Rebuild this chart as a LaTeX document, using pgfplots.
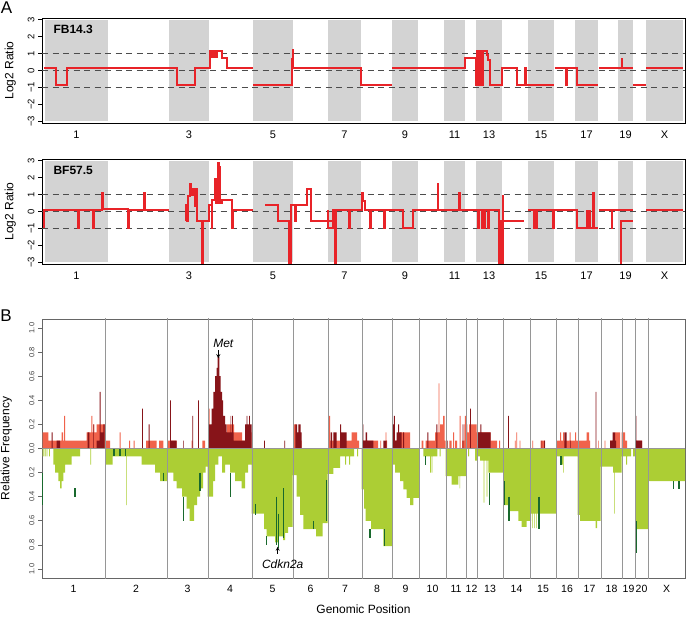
\documentclass[border=0pt]{standalone}
\usepackage{fontspec}
\setmainfont{Liberation Sans}
\usepackage{pgfplots}
\pgfplotsset{compat=1.18}

\definecolor{band}{RGB}{211,211,211}
\definecolor{segred}{RGB}{232,35,40}
\definecolor{gainlt}{RGB}{240,98,75}
\definecolor{gaindk}{RGB}{135,20,25}
\definecolor{losslt}{RGB}{172,206,52}
\definecolor{lossdk}{RGB}{25,105,45}
\definecolor{sep}{RGB}{150,150,150}

% x axis is a running genome position (one unit per pixel column of the figure)
\pgfplotsset{
  every axis/.append style={
    /pgf/number format/assume math mode=true,
    scale only axis, xmin=0, xmax=643, clip=true,
    x tick style={draw=none},
    tick align=outside, major tick length=4pt,
    ytick pos=left, xtick pos=bottom,
  },
  logpanel/.style={
    width=643pt, height=105pt, ymin=-3.1, ymax=3.1,
    axis line style={black, line width=0.8pt},
    xtick={34.5,147,231,302.5,363,412.5,447,499,544.5,583.5,622.5},
    xticklabels={1,3,5,7,9,11,13,15,17,19,X},
    ytick={-3,-2,-1,0,1,2,3},
    yticklabels={−3,−2,−1,0,1,2,3},
    y tick style={black, line width=0.7pt},
    xticklabel style={font=\fontsize{11}{11}\selectfont},
    yticklabel style={font=\fontsize{9.5}{9.5}\selectfont, rotate=90, anchor=south},
    ylabel={Log2 Ratio},
    ylabel style={font=\fontsize{12}{12}\selectfont, at={(axis description cs:-0.0446,0.5)}, anchor=base},
  },
}

\newcommand{\bands}{%
  \addplot[fill=band,draw=none] coordinates {(3,-3)(66,-3)(66,3)(3,3)} --cycle;
  \addplot[fill=band,draw=none] coordinates {(127,-3)(167,-3)(167,3)(127,3)} --cycle;
  \addplot[fill=band,draw=none] coordinates {(211,-3)(251,-3)(251,3)(211,3)} --cycle;
  \addplot[fill=band,draw=none] coordinates {(286,-3)(319,-3)(319,3)(286,3)} --cycle;
  \addplot[fill=band,draw=none] coordinates {(350,-3)(376,-3)(376,3)(350,3)} --cycle;
  \addplot[fill=band,draw=none] coordinates {(402,-3)(423,-3)(423,3)(402,3)} --cycle;
  \addplot[fill=band,draw=none] coordinates {(434,-3)(460,-3)(460,3)(434,3)} --cycle;
  \addplot[fill=band,draw=none] coordinates {(486,-3)(512,-3)(512,3)(486,3)} --cycle;
  \addplot[fill=band,draw=none] coordinates {(533,-3)(556,-3)(556,3)(533,3)} --cycle;
  \addplot[fill=band,draw=none] coordinates {(576,-3)(591,-3)(591,3)(576,3)} --cycle;
  \addplot[fill=band,draw=none] coordinates {(604,-3)(641,-3)(641,3)(604,3)} --cycle;
  \addplot[black!70, line width=1.3pt, dash pattern=on 6pt off 4.5pt] coordinates {(0,1)(643,1)};
  \addplot[black!70, line width=1.3pt, dash pattern=on 6pt off 4.5pt] coordinates {(0,0)(643,0)};
  \addplot[black!70, line width=1.3pt, dash pattern=on 6pt off 4.5pt] coordinates {(0,-1)(643,-1)};
}

\begin{document}
\begin{tikzpicture}
\path[use as bounding box] (0pt,0pt) rectangle (687pt,618pt);

\node[font=\fontsize{17}{17}\selectfont] at (6.5pt,610pt) {A};
\node[font=\fontsize{17}{17}\selectfont] at (6pt,302pt) {B};

% ---- A: FB14.3
\begin{axis}[logpanel, at={(42pt,495pt)}, anchor=south west]
\bands
\addplot[segred, line width=2pt, unbounded coords=jump] coordinates {
(2.3,0.15)(14,0.15)(14,-0.85)(24.7,-0.85)(24.7,0.15)(134.7,0.15)(134.7,-0.85)(153,-0.85)(153,0.15)
(168,0.15)(168,1.15)(170,1.15)(170,0.8)(172,0.8)(172,1.15)(174,1.15)(174,0.8)(175,0.8)(175,1.15)
(180,1.15)(180,0.75)(184.7,0.75)(184.7,0.15)(211,0.15)(211,nan)
(211,-0.85)(249.5,-0.85)(249.5,0.7)(250.5,0.7)(250.5,1.2)(251.3,1.2)(251.3,0.15)(319,0.15)(319,-0.85)(349.7,-0.85)(349.7,nan)
(350,0.15)(423,0.15)(423,0.75)(433.7,0.75)(433.7,-0.85)(435,-0.85)(435,1.15)(437,1.15)(437,-0.85)
(438,-0.85)(438,1.15)(440,1.15)(440,-0.85)(441.3,-0.85)(441.3,1.15)(444.7,1.15)(444.7,0.9)(446,0.9)
(446,0.6)(448,0.6)(448,-0.85)(460.3,-0.85)(460.3,0.15)(474.7,0.15)(474.7,-0.85)(483,-0.85)(483,0.15)
(484,0.15)(484,-0.85)(512.3,-0.85)(512.3,nan)
(512.5,0.15)(523.5,0.15)(523.5,-0.85)(524.5,-0.85)(524.5,0.15)(534.7,0.15)(534.7,-0.85)(556.3,-0.85)(556.3,nan)
(556.5,0.15)(579.5,0.15)(579.5,0.7)(580.3,0.7)(580.3,0.15)(590.7,0.15)(590.7,nan)
(591,-0.85)(604,-0.85)(604,nan)
(604,0.15)(641.3,0.15)
};
\node[anchor=west, font=\bfseries\fontsize{12}{12}\selectfont] at (axis cs:8,2.45) {FB14.3};
\end{axis}

% ---- A: BF57.5
\begin{axis}[logpanel, at={(42pt,354pt)}, anchor=south west]
\bands
\addplot[segred, line width=2pt, unbounded coords=jump] coordinates {
(2.3,-1)(2.3,0.1)(36,0.1)(36,-1)(36.6,-1)(36.6,0.1)(51,0.1)(51,-1)(51.6,-1)(51.6,0.1)(60,0.1)(60,1.1)
(60.6,1.1)(60.6,0.15)(86,0.15)(86,-1)(86.6,-1)(86.6,0.1)(102,0.1)(102,1.1)(102.6,1.1)(102.6,0.1)(127,0.1)(127,nan)
(143.7,-0.55)(143.7,0.4)(145,0.4)(145,-0.55)(146.3,-0.55)(146.3,0.9)(148.3,0.9)(148.3,1.65)(149,1.65)
(149,1.0)(150.7,1.0)(150.7,1.35)(153,1.35)(153,0.3)(154,0.3)(154,1.35)(154.7,1.35)(154.7,-0.55)
(159.7,-0.55)(159.7,-3.2)(160.7,-3.2)(160.7,-0.55)(167.3,-0.55)(167.3,0.4)(169.7,0.4)(169.7,-1)
(170.3,-1)(170.3,0.7)(173,0.7)(173,1.9)(173.6,1.9)(173.6,0.5)(174.7,0.5)(174.7,1.8)(175.3,1.8)
(175.3,0.5)(176,0.5)(176,2.85)(176.7,2.85)(176.7,0.5)(177.7,0.5)(177.7,2.6)(178.3,2.6)(178.3,0.5)
(179.7,0.5)(179.7,0.7)(190.3,0.7)(190.3,-1)(190.8,-1)(190.8,0.1)(211.3,0.1)(211.3,nan)
(223,0.4)(235.7,0.4)(235.7,-0.55)(247.3,-0.55)(247.3,-3.2)(248.5,-3.2)(248.5,0.4)(253,0.4)(253,-0.55)
(253.6,-0.55)(253.6,0.4)(265.3,0.4)(265.3,1.35)(268.7,1.35)(268.7,-0.55)(291.3,-0.55)(291.3,nan)
(286,0.1)(286,-0.95)(291.3,-0.95)(291.3,0.1)(293,0.1)(293,-3.2)(293.7,-3.2)(293.7,0.1)(307.3,0.1)
(307.3,-1)(307.9,-1)(307.9,0.1)(319.7,0.1)(319.7,1.1)(320.5,1.1)(320.5,0.6)(323,0.6)(323,0.1)(328,0.1)
(328,-1)(328.6,-1)(328.6,0.1)(342.3,0.1)(342.3,-1)(342.9,-1)(342.9,0.1)(361.3,0.1)(361.3,-0.95)
(370.7,-0.95)(370.7,0.1)(395.7,0.1)(395.7,1.65)(396.3,1.65)(396.3,0.1)(417.3,0.1)(417.3,1.1)(417.9,1.1)
(417.9,0.1)(436.3,0.1)(436.3,-1)(436.9,-1)(436.9,0.1)(439.7,0.1)(439.7,-1)(440.3,-1)(440.3,0.1)
(442.3,0.1)(442.3,-1)(442.9,-1)(442.9,0.1)(446.3,0.1)(446.3,-1)(446.9,-1)(446.9,0.1)(457,0.1)
(457,-3.2)(458,-3.2)(458,-0.55)(459.5,-0.55)(459.5,-3.2)(460.5,-3.2)(460.5,0.9)(461.3,0.9)(461.3,-0.55)
(482,-0.55)(482,nan)
(486.3,0.1)(492.3,0.1)(492.3,-1)(493.5,-1)(493.5,0.1)(494.3,0.1)(494.3,-1)(494.9,-1)(494.9,0.1)
(511.3,0.1)(511.3,-1)(511.9,-1)(511.9,0.1)(534.7,0.1)(534.7,-0.95)(544.5,-0.95)(544.5,0)(545.1,0)
(545.1,-0.95)(547,-0.95)(547,0)(547.5,0)(547.5,-0.95)(551.3,-0.95)(551.3,1.1)(551.9,1.1)(551.9,-0.95)
(556.3,-0.95)(556.3,nan)
(556.5,0.1)(569.7,0.1)(569.7,-1)(570.3,-1)(570.3,0.1)(590.7,0.1)(590.7,nan)
(579,-3.2)(579,-0.55)(591.3,-0.55)(591.3,nan)
(604,0.1)(641.3,0.1)
};
\node[anchor=west, font=\bfseries\fontsize{12}{12}\selectfont] at (axis cs:8,2.45) {BF57.5};
\end{axis}

% ---- B: relative frequency of gains (up) and losses (down)
\begin{axis}[at={(42pt,40pt)}, anchor=south west, width=643pt, height=259pt,
  ymin=-1.075, ymax=1.075,
  axis line style={black!60, line width=0.8pt},
  xtick={31.5,94,145.5,188,230.5,268.5,303,335,363.5,390.5,414,429.5,448,474.5,501,525,547.5,569.5,586.5,599.5,624.5},
  xticklabels={1,2,3,4,5,6,7,8,9,10,11,12,13,14,15,16,17,18,19,20,X},
  ytick={-1,-0.8,-0.6,-0.4,-0.2,0,0.2,0.4,0.6,0.8,1},
  yticklabels={1.0,0.8,0.6,0.4,0.2,0.0,0.2,0.4,0.6,0.8,1.0},
  y tick style={black!60, line width=0.6pt},
  xticklabel style={font=\fontsize{10.5}{10.5}\selectfont},
  yticklabel style={font=\fontsize{7.5}{7.5}\selectfont, rotate=90, anchor=south, text=black!75},
  ylabel={Relative Frequency},
  ylabel style={font=\fontsize{12}{12}\selectfont, at={(axis description cs:-0.0508,0.5)}, anchor=base},
  xlabel={Genomic Position},
  xlabel style={font=\fontsize{12}{12}\selectfont, at={(axis description cs:0.5,-0.1375)}, anchor=base},
]
% gains
\addplot[fill=gainlt, draw=none, const plot mark left] coordinates {
(0,0)(0.5,0.133)(6.3,0.066)(19.5,0.133)(21,0.066)(22,0.27)(23,0.066)(44.7,0.133)(49.3,0.27)(50.3,0.133)
(51.3,0.2)(52.3,0.133)(54.7,0.2)(63.5,0.066)(68,0)
(77.5,0.133)(78.5,0)(87,0.066)(88,0)(91.5,0.066)(92.5,0)(104,0.066)(114.7,0)(117,0.066)(121.3,0)
(125.7,0.066)(134.7,0)(149.5,0.066)(150.5,0)(160.3,0.066)(163,0)
(166,0.066)(166.5,0.33)(167.5,0.133)(185,0.2)(192,0.133)(200,0.066)(203,0.133)(209.5,0)
(251,0.2)(254,0.066)(259.5,0)
(286,0.066)(287,0.27)(288,0.066)(309.5,0.133)(315,0.066)(317,0)
(320,0.066)(336,0)(338.3,0.066)(339,0)(343.7,0.133)(344.3,0.066)(345,0)
(350.3,0.066)(358,0.133)(368,0)
(379.7,0.066)(381.3,0)(383.7,0.066)(393,0.133)(396.7,0.54)(397.4,0.133)(398,0.2)(401,0.27)(402.5,0.066)(403.5,0)
(407.3,0.066)(409.7,0)(411,0.133)(412,0)(413,0.066)(415,0)(417.7,0.27)(418.5,0)(420,0.066)(422.3,0.2)
(422.8,0.27)(423.8,0.2)(425.3,0.133)(427,0.2)(434.7,0.133)
(435,0.133)(448.7,0.066)(455,0)(457,0.066)(458,0)
(472.8,0.066)(473.5,0)(474.3,0.133)(475,0)(477.5,0.066)(478.3,0)
(490.3,0.066)(491,0)(498.7,0.066)(503,0)
(514.3,0.066)(518,0.133)(519,0.066)(521,0.133)(522,0.066)(527.7,0.133)(528.7,0.066)(533,0.133)(534,0.066)
(544.7,0.133)(547,0.066)(548,0)(556,0.066)(556.7,0)
(562.5,0.066)(563.3,0)(568,0.066)(573,0.133)(578,0)
(579.7,0.133)(583,0.066)(585,0)
(594.3,0.066)(600,0)(643,0)
} \closedcycle;
\addplot[fill=gaindk, draw=none, const plot mark left] coordinates {
(0,0)(9.7,0.133)(10.7,0)(14.7,0.066)(18,0)(45.7,0.133)(47.3,0)(51,0.2)(51.7,0)(54.7,0.066)(57.7,0.47)
(58.5,0.133)(61.3,0.2)(62.7,0)
(100,0.33)(100.8,0)(106.7,0.2)(107.5,0)
(128,0.4)(128.8,0.066)(134.7,0)(141,0.066)(141.7,0)(150.4,0.27)(151.2,0)(156,0.4)(156.8,0)
(167,0.2)(169.7,0.33)(171.3,0.47)(173,0.6)(174.7,0.67)(175.5,0.76)(177.3,0.6)(178.7,0.47)(180,0.4)
(181,0.27)(183,0.2)(184.7,0.133)(188.5,0.27)(189.2,0.133)(190,0.27)(190.8,0.133)(191.5,0.066)(203,0.2)
(204.5,0.27)(205.3,0.2)(207,0.27)(207.8,0.2)(209.5,0)
(222,0.066)(222.8,0)(242.3,0.066)(243,0)
(253.3,0.2)(255,0.133)(256.3,0.2)(258.5,0.133)(259.5,0)
(288.7,0.133)(290,0)(291.3,0.133)(294.7,0)(298,0.2)(299,0.133)(304.7,0)
(320,0.2)(321.3,0.066)(323.7,0.133)(325,0.066)(331.3,0)(341.3,0.066)(344.7,0)
(350.8,0.2)(351.8,0.27)(352.8,0.066)(354.7,0.133)(356,0.2)(357,0.133)(359.7,0)(361,0.133)(362,0)
(385.3,0.133)(386.3,0)(394.3,0.2)(395.3,0)
(404.5,0.066)(405.5,0)(420.5,0.2)(421.3,0)
(428,0.33)(428.8,0)
(435.3,0.133)(438.3,0.2)(439.3,0.133)(448.7,0)
(466,0.27)(466.8,0)
(499.5,0.066)(500.2,0)(502,0.066)(502.8,0)
(522.3,0.133)(524.7,0)(528,0.066)(528.7,0)
(553.7,0.47)(554.4,0)
(568,0.066)(570.7,0.133)(573,0.066)(574,0)
(593.5,0.27)(594.3,0.066)(600,0)(643,0)
} \closedcycle;
% losses
\addplot[fill=losslt, draw=none, const plot mark left] coordinates {
(0,0)(0.7,-0.066)(1.5,0)(2.7,-0.066)(3.5,0)(4.5,-0.066)(5.3,0)(7,-0.066)(7.8,0)(11.3,-0.133)(13,-0.2)
(16.3,-0.27)(18,-0.33)(19.7,-0.27)(21.3,-0.2)(23,-0.133)(29.7,-0.066)(38,0)(48.3,-0.133)(49,0)
(63.7,-0.133)(70.7,-0.066)(84,-0.47)(84.7,-0.066)(99.7,-0.133)(113,-0.2)(118,-0.27)
(125,-0.2)(131.3,-0.27)(134.7,-0.33)(140,-0.4)(144.7,-0.5)(147.5,-0.6)(152,-0.47)(155,-0.4)(158,-0.33)
(161,-0.2)(163.5,-0.15)
(165.7,-0.4)(171,-0.27)(173,-0.133)(176.3,-0.066)(180,-0.2)(183,-0.133)(188,-0.2)(193,-0.27)(199.7,-0.33)
(203,-0.2)(206,-0.133)
(209.7,-0.54)(222,-0.67)(224.5,-0.73)(233,-0.78)(236,-0.73)(241,-0.76)(243,-0.7)(246,-0.65)
(250.7,-0.22)(254.7,-0.4)(258,-0.55)(261.3,-0.67)(274,-0.73)(280.5,-0.62)
(285.7,-0.21)(291.3,-0.16)(298,-0.066)(303,-0.133)(304,-0.066)(307,-0.133)(308,-0.066)(312,0)(315,-0.066)(316,0)
(319.7,-0.34)(322,-0.5)(323.5,-0.6)(329,-0.67)(341.3,-0.81)
(350.3,-0.133)(353,-0.2)(358,-0.27)(361.3,-0.34)(364.7,-0.41)(368,-0.47)(371.3,-0.41)
(377.3,0)(381.3,-0.066)(388,-0.2)(388.8,-0.066)(389.5,-0.2)(390.3,-0.066)(395.3,0)(397.7,-0.066)(398.5,0)
(403.7,-0.23)(409.7,-0.3)(416.3,-0.23)(417.5,-0.33)(418.2,-0.23)
(424.3,0)(426,-0.066)(427,0)(433,-0.1)
(435,-0.066)(438,-0.1)(441.5,-0.45)(442.3,-0.1)(444.5,-0.4)(445.3,-0.1)(446.3,-0.2)
(461.3,-0.47)(466.3,-0.52)(476.3,-0.6)(479.7,-0.65)(484.7,-0.6)
(488,-0.6)(489,-0.54)(490,-0.66)(490.7,-0.54)(492,-0.66)(492.7,-0.54)(494,-0.66)(494.7,-0.54)
(514.3,-0.066)(518,-0.133)(521,-0.2)(521.7,-0.066)
(535.7,-0.55)(538,-0.6)(553.5,-0.66)(555,-0.6)
(558.7,-0.15)(571,-0.2)(572,-0.54)(572.7,-0.2)
(579.7,-0.066)(584,-0.133)(585,-0.066)(589,0)(591,-0.066)
(593.3,-0.67)
(606.3,-0.27)(643,0)
} \closedcycle;
\addplot[lossdk, line width=1.1pt, unbounded coords=jump] coordinates {
(0.4,-0.2)(0.4,-0.47)(0.4,nan)(33,-0.33)(33,-0.4)(33,nan)
(72,0)(72,-0.066)(72,nan)(78,0)(78,-0.066)(78,nan)(83.7,0)(83.7,-0.066)(83.7,nan)
(121.3,-0.2)(121.3,-0.27)(121.3,nan)(141.5,-0.4)(141.5,-0.6)(141.5,nan)(158,-0.2)(158,-0.35)(158,nan)
(188.7,-0.2)(188.7,-0.4)(188.7,nan)(213.7,-0.46)(213.7,-0.55)(213.7,nan)(224.7,-0.73)(224.7,-0.8)(224.7,nan)
(234.7,-0.4)(234.7,-0.8)(234.7,nan)(236.3,-0.54)(236.3,-0.83)(236.3,nan)(241.3,-0.33)(241.3,-0.74)(241.3,nan)
(271.3,-0.6)(271.3,-0.67)(271.3,nan)(284.3,-0.26)(284.3,-0.6)(284.3,nan)
(328,-0.67)(328,-0.74)(328,nan)(342.7,-0.67)(342.7,-0.81)(342.7,nan)
(383.7,-0.066)(383.7,-0.133)(383.7,nan)(447.3,-0.2)(447.3,-0.47)(447.3,nan)
(462.7,-0.27)(462.7,-0.47)(462.7,nan)(467,-0.4)(467,-0.6)(467,nan)(497,-0.4)(497,-0.67)(497,nan)
(519,-0.066)(519,-0.133)(519,nan)(594,-0.6)(594,-0.87)(594,nan)
(631.3,-0.27)(631.3,-0.34)(631.3,nan)(637,-0.27)(637,-0.34)
};
% chromosome separators and zero line
\addplot[sep, line width=0.9pt, unbounded coords=jump] coordinates {
(63,-1.1)(63,1.1)(63,nan)(125,-1.1)(125,1.1)(125,nan)(166,-1.1)(166,1.1)(166,nan)(210,-1.1)(210,1.1)(210,nan)
(251,-1.1)(251,1.1)(251,nan)(286,-1.1)(286,1.1)(286,nan)(320,-1.1)(320,1.1)(320,nan)(350,-1.1)(350,1.1)(350,nan)
(377,-1.1)(377,1.1)(377,nan)(404,-1.1)(404,1.1)(404,nan)(424,-1.1)(424,1.1)(424,nan)(435,-1.1)(435,1.1)(435,nan)
(461,-1.1)(461,1.1)(461,nan)(488,-1.1)(488,1.1)(488,nan)(514,-1.1)(514,1.1)(514,nan)(536,-1.1)(536,1.1)(536,nan)
(559,-1.1)(559,1.1)(559,nan)(580,-1.1)(580,1.1)(580,nan)(593,-1.1)(593,1.1)(593,nan)(606,-1.1)(606,1.1)
};
\addplot[sep, line width=0.8pt] coordinates {(0,0)(643,0)};
% gene annotations
\addplot[black, line width=0.8pt, -stealth] coordinates {(176.3,0.815)(176.3,0.75)};
\node[font=\itshape\fontsize{12}{12}\selectfont] at (axis cs:181.3,0.87) {Met};
\addplot[black, line width=0.8pt, -stealth] coordinates {(235.7,-0.875)(235.7,-0.815)};
\node[font=\itshape\fontsize{12}{12}\selectfont] at (axis cs:240.7,-0.957) {Cdkn2a};
\end{axis}
\end{tikzpicture}
\end{document}
